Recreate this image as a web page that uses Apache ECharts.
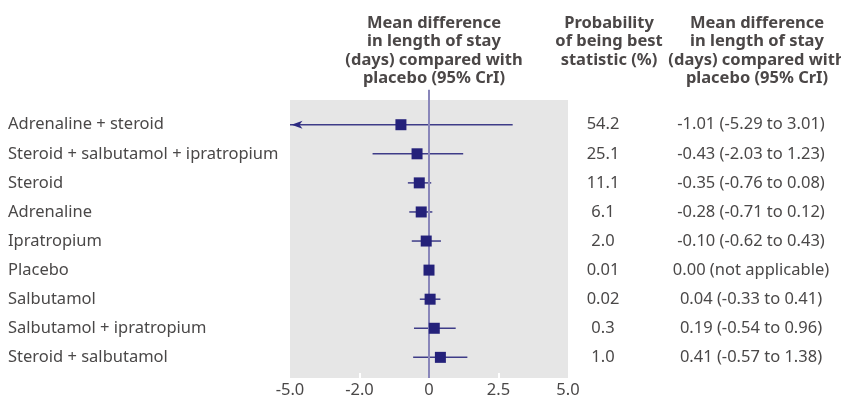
<!DOCTYPE html>
<html>
<head>
<meta charset="utf-8">
<script src="https://cdn.jsdelivr.net/npm/echarts@6/dist/echarts.min.js"></script>
<style>
  html, body { margin: 0; padding: 0; background: #fff; }
  #chart { width: 841px; height: 399px; }
</style>
</head>
<body>
<div id="chart"></div>
<script>
// rows, top to bottom
var treatments = [
  "Adrenaline + steroid",
  "Steroid + salbutamol + ipratropium",
  "Steroid",
  "Adrenaline",
  "Ipratropium",
  "Placebo",
  "Salbutamol",
  "Salbutamol + ipratropium",
  "Steroid + salbutamol"
];
var meanDiff = [-1.01, -0.43, -0.35, -0.28, -0.10, 0.00, 0.04, 0.19, 0.41];
var lowerCrI = [-5.29, -2.03, -0.76, -0.71, -0.62, null, -0.33, -0.54, -0.57];
var upperCrI = [3.01, 1.23, 0.08, 0.12, 0.43, null, 0.41, 0.96, 1.38];
var probBest = ["54.2", "25.1", "11.1", "6.1", "2.0", "0.01", "0.02", "0.3", "1.0"];
var crITexts = [
  "-1.01 (-5.29 to 3.01)",
  "-0.43 (-2.03 to 1.23)",
  "-0.35 (-0.76 to 0.08)",
  "-0.28 (-0.71 to 0.12)",
  "-0.10 (-0.62 to 0.43)",
  "0.00 (not applicable)",
  "0.04 (-0.33 to 0.41)",
  "0.19 (-0.54 to 0.96)",
  "0.41 (-0.57 to 1.38)"
];
// x axis ticks and the labels as printed
var tickValues = [-5, -2.5, 0, 2.5, 5];
var tickLabels = ["-5.0", "-2.0", "0", "2.5", "5.0"];

var X_MIN = -5, X_MAX = 5;
var textColor = "#4a4848";
var headColor = "#4b4747";
var font = "'Noto Sans', 'Open Sans', sans-serif";

var chart = echarts.init(document.getElementById("chart"));

var barData = [], pointData = [];
for (var i = 0; i < treatments.length; i++) {
  barData.push([lowerCrI[i], upperCrI[i], i]);
  pointData.push([meanDiff[i], i]);
}

function renderBar(params, api) {
  var lo = api.value(0), hi = api.value(1), row = api.value(2);
  if (isNaN(lo) || isNaN(hi)) return;
  var p1 = api.coord([Math.max(lo, X_MIN), row]);
  var p2 = api.coord([Math.min(hi, X_MAX), row]);
  var children = [{
    type: "line",
    shape: { x1: p1[0], y1: p1[1], x2: p2[0], y2: p2[1] },
    style: { stroke: "#3e3c88", lineWidth: 1.5 }
  }];
  // truncated interval -> arrow head
  if (lo < X_MIN) {
    var x = p1[0] + 1.5, y = p1[1];
    children.push({
      type: "polygon",
      shape: { points: [[x, y], [x + 11, y - 4], [x + 8, y], [x + 11, y + 4]] },
      style: { fill: "#2c2a80" }
    });
  }
  if (hi > X_MAX) {
    var x2 = p2[0] - 1.5, y2 = p2[1];
    children.push({
      type: "polygon",
      shape: { points: [[x2, y2], [x2 - 11, y2 - 4], [x2 - 8, y2], [x2 - 11, y2 + 4]] },
      style: { fill: "#2c2a80" }
    });
  }
  return { type: "group", children: children };
}

function renderZero(params, api) {
  var top = api.coord([0, -1.2]);
  var bottom = api.coord([0, 8.71]);
  return {
    type: "line",
    shape: { x1: top[0], y1: top[1], x2: bottom[0], y2: bottom[1] },
    style: { stroke: "#8986ba", lineWidth: 2 }
  };
}

function header(text, x) {
  return {
    text: text,
    left: x,
    top: 9,
    textAlign: "center",
    textStyle: {
      fontFamily: font,
      fontSize: 16.5,
      fontWeight: "bold",
      color: headColor,
      lineHeight: 18.5
    }
  };
}

function columnLabel(align, margin) {
  return { align: align, margin: margin, color: textColor, fontFamily: font, fontSize: 16.5 };
}

var option = {
  animation: false,
  title: [
    header("Mean difference\nin length of stay\n(days) compared with\nplacebo (95% CrI)", 429),
    header("Probability\nof being best\nstatistic (%)", 604),
    header("Mean difference\nin length of stay\n(days) compared with\nplacebo (95% CrI)", 752)
  ],
  grid: [
    {
      left: 290, width: 278, top: 100, height: 278,
      show: true, backgroundColor: "#e6e6e6", borderWidth: 0
    },
    // text columns, one band per row
    { left: 290, width: 278, top: 110.2, height: 262 }
  ],
  xAxis: [
    {
      gridIndex: 0,
      type: "value",
      min: X_MIN,
      max: X_MAX,
      interval: 2.5,
      splitLine: { show: false },
      axisLine: { show: false, onZero: false },
      axisTick: {
        show: true,
        inside: true,
        length: 5,
        customValues: [-2.5, 2.5],
        lineStyle: { color: "#ffffff", width: 2 }
      },
      axisLabel: {
        customValues: tickValues,
        margin: 4,
        color: textColor,
        fontFamily: font,
        fontSize: 16.5,
        formatter: function (v) {
          var k = tickValues.indexOf(v);
          return k >= 0 ? tickLabels[k] : "";
        }
      }
    },
    { gridIndex: 1, type: "value", min: 0, max: 1, show: false }
  ],
  yAxis: [
    { gridIndex: 0, type: "value", inverse: true, min: -0.85, max: 8.71, show: false },
    {
      gridIndex: 1,
      type: "category",
      inverse: true,
      position: "left",
      data: treatments,
      axisLine: { show: false },
      axisTick: { show: false },
      axisLabel: columnLabel("left", 282)
    },
    {
      gridIndex: 1,
      type: "category",
      inverse: true,
      position: "right",
      data: probBest,
      axisLine: { show: false },
      axisTick: { show: false },
      axisLabel: columnLabel("center", 35)
    },
    {
      gridIndex: 1,
      type: "category",
      inverse: true,
      position: "right",
      data: crITexts,
      axisLine: { show: false },
      axisTick: { show: false },
      axisLabel: columnLabel("center", 183)
    }
  ],
  series: [
    {
      type: "custom",
      xAxisIndex: 0,
      yAxisIndex: 0,
      renderItem: renderBar,
      data: barData,
      z: 2
    },
    {
      type: "custom",
      xAxisIndex: 0,
      yAxisIndex: 0,
      renderItem: renderZero,
      data: [[0]],
      clip: false,
      silent: true,
      z: 3
    },
    {
      type: "scatter",
      xAxisIndex: 0,
      yAxisIndex: 0,
      symbol: "rect",
      symbolSize: 11,
      itemStyle: { color: "#24217a", opacity: 1 },
      data: pointData,
      z: 4
    }
  ]
};

chart.setOption(option);
</script>
</body>
</html>
